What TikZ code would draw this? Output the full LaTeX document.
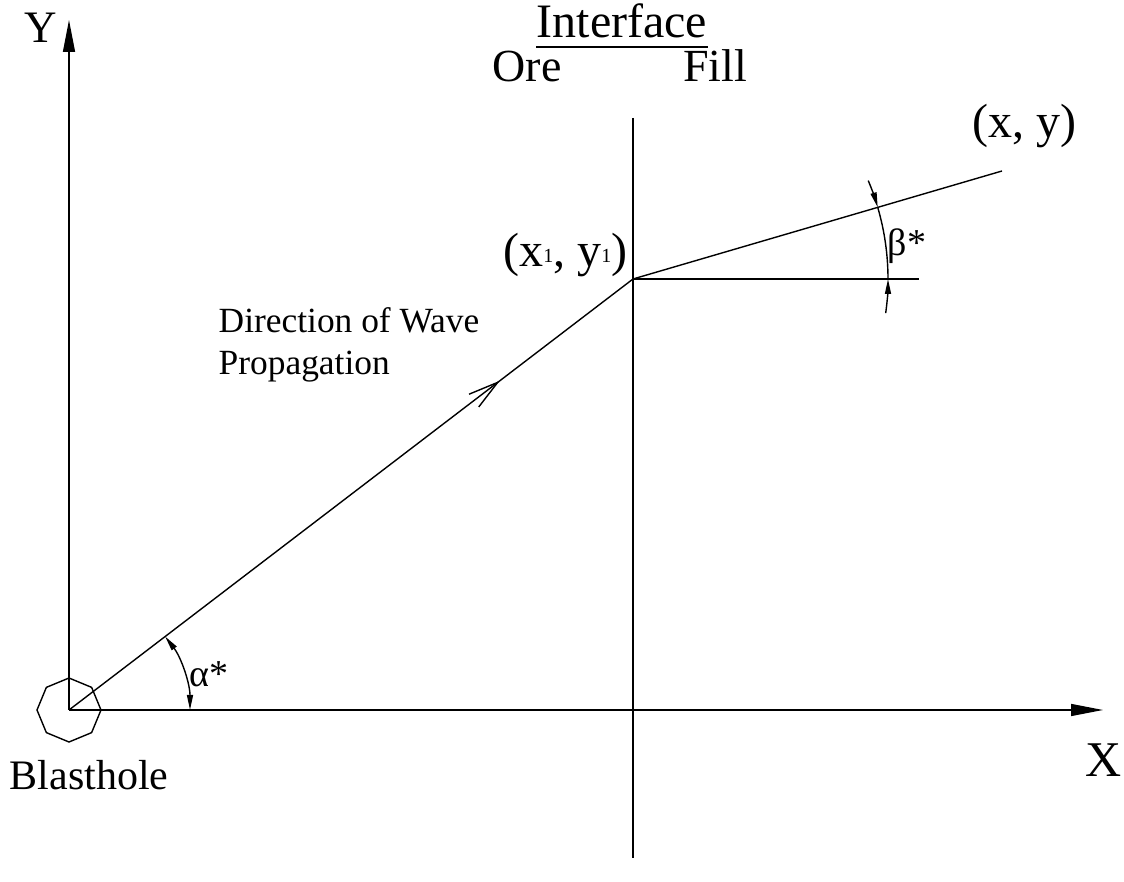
\documentclass[tikz,border=0pt]{standalone}
\usepackage{fontspec}
\setmainfont{Liberation Serif}
\usetikzlibrary{arrows.meta,decorations.markings,shapes.geometric}

\newcommand{\smallidx}[1]{\raisebox{2pt}{\fontsize{10}{12}\selectfont #1}}

\begin{document}
\begin{tikzpicture}[
  x=0.5pt, y=0.5pt, line width=0.7pt,
  lbl/.style={inner sep=0pt},
  axis/.style={-{Triangle[length=16pt,width=6pt]}},
  tipin/.style={-{Triangle[length=7.5pt,width=3pt]}},
  dimarc/.style={{Triangle[length=7.5pt,width=3pt]}-{Triangle[length=7.5pt,width=3pt]}},
  ray/.style={postaction={decorate}, decoration={markings,
      mark=at position 0.764 with {\arrow{Straight Barb[length=15pt,width=8pt]}}}}
]
  \useasboundingbox (-69,-172) rectangle (1055,710);

  % points
  \coordinate (O)    at (0,0);
  \coordinate (ytip) at (0,690);
  \coordinate (xtip) at (1034,0);
  \coordinate (P1)   at (564,431);
  \coordinate (P2)   at (933,539);
  \coordinate (itop) at (564,592);
  \coordinate (ibot) at (564,-148);
  \coordinate (href) at (850,431);

  \node[draw, regular polygon, regular polygon sides=8, shape border rotate=22.5,
        minimum size=32pt, inner sep=0pt] (hole) at (O) {};

  % axes and interface
  \draw[axis] (O) -- (ytip);
  \draw[axis] (O) -- (xtip);
  \draw (itop) -- (ibot);

  % wave path
  \draw[ray] (O) -- (P1);
  \draw (P1) -- (P2);
  \draw (P1) -- (href);

  % angles
  \draw[dimarc] (O) ++(0:121) arc[start angle=0, end angle=37.39, radius=121];
  \draw[tipin] (P1) ++(22.7:255) arc[start angle=22.7, end angle=16.31, radius=255];
  \draw (P1) ++(16.31:255) arc[start angle=16.31, end angle=0, radius=255];
  \draw[tipin] (P1) ++(-7.7:255) arc[start angle=-7.7, end angle=0, radius=255];

  % labels
  \node[lbl, font=\fontsize{22.5}{27}\selectfont] (ylab) at (-28,682) {Y};
  \node[lbl, font=\fontsize{25}{30}\selectfont] (xlab) at (1035,-50) {X};
  \node[lbl, anchor=base, font=\fontsize{24}{29}\selectfont] (iface) at (553,672) {Interface};
  \draw ([yshift=-4.5pt]iface.base west) -- ([yshift=-4.5pt]iface.base east);
  \node[lbl, anchor=base, font=\fontsize{23}{28}\selectfont] (ore) at (458,628) {Ore};
  \node[lbl, anchor=base, font=\fontsize{23}{28}\selectfont] (fill) at (646,628) {Fill};
  \node[lbl, anchor=base east, font=\fontsize{24}{29}\selectfont] (p1lab) at (559,443)
       {(x\smallidx{1}, y\smallidx{1})};
  \node[lbl, anchor=base, font=\fontsize{24}{29}\selectfont] (p2lab) at (955,572) {(x, y)};
  \node[lbl, anchor=north west, align=left, font=\fontsize{17.7}{21}\selectfont] (dir) at (149,403)
       {Direction of Wave\\Propagation};
  \node[lbl, anchor=base, font=\fontsize{21}{25}\selectfont] (hlab) at (20,-80) {Blasthole};
  \node[lbl, font=\fontsize{19}{23}\selectfont] (alab) at (140,36) {α*};
  \node[lbl, font=\fontsize{19}{23}\selectfont] (blab) at (838,464) {β*};
\end{tikzpicture}
\end{document}
